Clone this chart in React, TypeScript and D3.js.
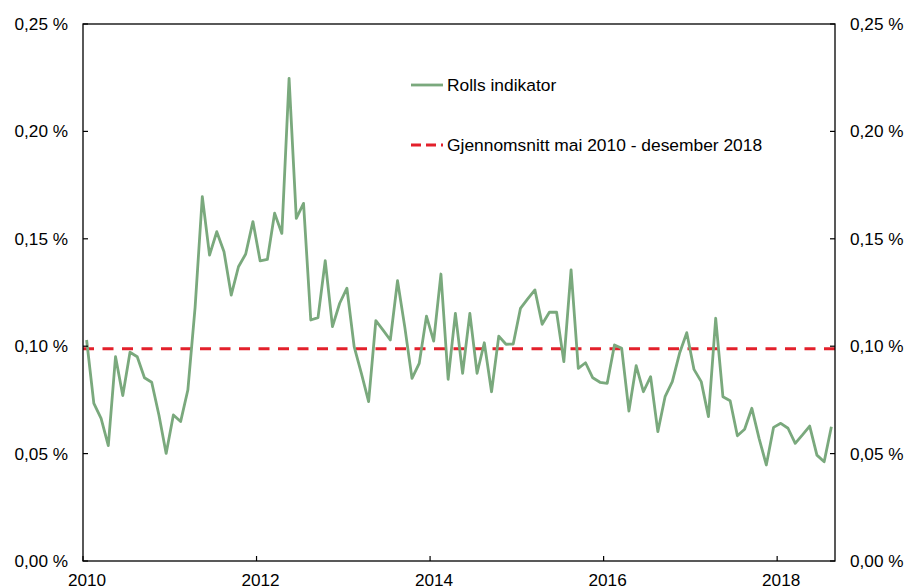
import React from "react";
import * as d3 from "d3";

// Rolls indikator, monthly, Jan 2010 - Aug 2018 (percent)
const rollsValues = [
  0.1029, 0.0734, 0.0664, 0.0537, 0.0951, 0.077, 0.0972, 0.0951, 0.0853, 0.0832, 0.068, 0.0501,
  0.068, 0.0649, 0.0796, 0.118, 0.1696, 0.1424, 0.1533, 0.144, 0.1238, 0.137, 0.1429, 0.158,
  0.1397, 0.1404, 0.1619, 0.1525, 0.2247, 0.1595, 0.1665, 0.1122, 0.1133, 0.1398, 0.1091, 0.12,
  0.127, 0.0998, 0.0874, 0.0742, 0.1119, 0.1075, 0.1029, 0.1305, 0.109, 0.085, 0.092, 0.114,
  0.1024, 0.1336, 0.0846, 0.1153, 0.0874, 0.1153, 0.0874, 0.1016, 0.0788, 0.1047, 0.1009, 0.101,
  0.1176, 0.122, 0.1262, 0.1102, 0.1158, 0.1158, 0.0928, 0.1355, 0.0897, 0.0923, 0.0853, 0.0832,
  0.0827, 0.1006, 0.099, 0.0698, 0.0909, 0.0788, 0.0858, 0.0602, 0.0765, 0.0835, 0.0967, 0.1063,
  0.0892, 0.0835, 0.0672, 0.113, 0.0765, 0.0746, 0.0583, 0.0613, 0.0711, 0.0571, 0.0447, 0.0622,
  0.0641, 0.0618, 0.0548, 0.0587, 0.0628, 0.0493, 0.0462, 0.0625,
];

const averageValue = 0.0988;

const yearLabels = ["2010", "2012", "2014", "2016", "2018"];
const yTicks = [0, 0.05, 0.1, 0.15, 0.2, 0.25];

const legendLabels = ["Rolls indikator", "Gjennomsnitt mai 2010 - desember 2018"];

const width = 907;
const height = 588;
const margin = { top: 24, right: 72, bottom: 27, left: 83 };

const green = "#7aa97d";
const red = "#e3202b";
const font = "'Liberation Sans', Arial, sans-serif";

const fmt = (v: number) => v.toFixed(2).replace(".", ",") + " %";

export default function App() {
  const x = d3
    .scaleLinear()
    .domain([0, rollsValues.length])
    .range([margin.left, width - margin.right]);

  const y = d3
    .scaleLinear()
    .domain([0, 0.25])
    .range([height - margin.bottom, margin.top]);

  const line = d3
    .line<number>()
    .x((d, i) => x(i + 0.5))
    .y((d) => y(d));

  const x0 = x(0);
  const x1 = x(rollsValues.length);
  const y0 = y(0);
  const yTop = y(0.25);

  return (
    <svg
      width={width}
      height={height}
      style={{ position: "fixed", left: 0, top: 0, background: "#fff" }}
      fontFamily={font}
    >
      {/* average line */}
      <line
        x1={x0}
        x2={x1}
        y1={y(averageValue)}
        y2={y(averageValue)}
        stroke={red}
        strokeWidth={3}
        strokeDasharray="11 8.5"
      />

      <path d={line(rollsValues) || ""} fill="none" stroke={green} strokeWidth={2.8} strokeLinejoin="round" />

      {/* frame */}
      <rect x={x0} y={yTop} width={x1 - x0} height={y0 - yTop} fill="none" stroke="#000" strokeWidth={1.3} />

      {/* y ticks both sides */}
      {yTicks.map((t) => (
        <g key={t}>
          <line x1={x0} x2={x0 + 5} y1={y(t)} y2={y(t)} stroke="#000" strokeWidth={1.2} />
          <line x1={x1 - 5} x2={x1} y1={y(t)} y2={y(t)} stroke="#000" strokeWidth={1.2} />
          <text x={68} y={y(t)} dy="0.35em" textAnchor="end" fontSize={17.2} fill="#000">
            {fmt(t)}
          </text>
          <text x={850} y={y(t)} dy="0.35em" textAnchor="start" fontSize={17.2} fill="#000">
            {fmt(t)}
          </text>
        </g>
      ))}

      {/* x ticks every 24 months */}
      {yearLabels.map((lab, k) => {
        const xi = x(k * 24);
        return (
          <g key={lab}>
            <line x1={xi} x2={xi} y1={y0} y2={y0 - 5} stroke="#000" strokeWidth={1.2} />
            <text x={xi + 4} y={586} textAnchor="middle" fontSize={17.2} fill="#000">
              {lab}
            </text>
          </g>
        );
      })}

      {/* legend */}
      <line x1={411} x2={443} y1={85} y2={85} stroke={green} strokeWidth={2.8} />
      <text x={447} y={85} dy="0.35em" fontSize={17.4} fill="#000">
        {legendLabels[0]}
      </text>
      <line x1={411} x2={443} y1={145} y2={145} stroke={red} strokeWidth={3} strokeDasharray="10 5" />
      <text x={447} y={145} dy="0.35em" fontSize={17.4} fill="#000">
        {legendLabels[1]}
      </text>
    </svg>
  );
}
